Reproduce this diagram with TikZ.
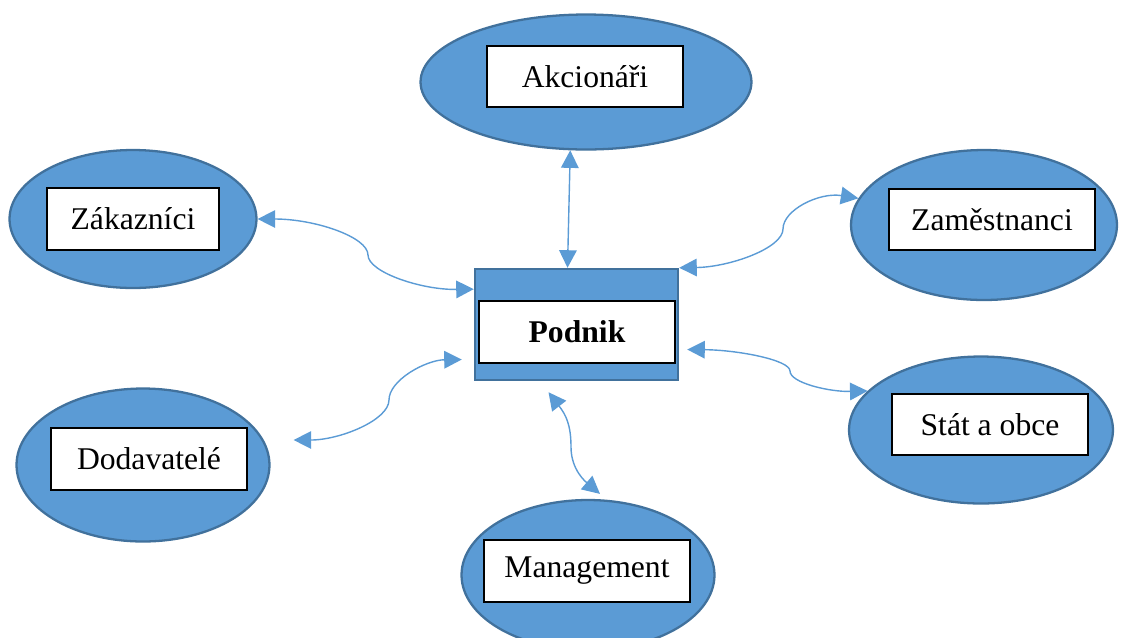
\documentclass[tikz,border=0pt]{standalone}
\usepackage{fontspec}
\setmainfont{Liberation Serif}
\usetikzlibrary{shapes.geometric,arrows.meta,calc}
\definecolor{fillblue}{HTML}{5B9BD5}
\definecolor{edgeblue}{HTML}{41719C}
\tikzset{
  party/.style={ellipse, draw=edgeblue, fill=fillblue, line width=1.3pt, inner sep=0pt},
  firm/.style={rectangle, draw=edgeblue, fill=fillblue, line width=1.4pt, inner sep=0pt},
  namebox/.style={rectangle, draw=black, fill=white, line width=0.6pt, inner sep=0pt,
    font=\fontsize{18}{21}\selectfont},
  link/.style={fillblue, line width=0.8pt,
    {Triangle[length=10pt,width=10pt]}-{Triangle[length=10pt,width=10pt]}}
}

\begin{document}
\begin{tikzpicture}[x=0.02cm, y=-0.02cm]
  \useasboundingbox (0,0) rectangle (1127,637);

  % stakeholders
  \node[party, minimum width=6.62cm, minimum height=2.7cm] (akc) at (586,82) {};
  \node[party, minimum width=4.94cm, minimum height=2.76cm] (zak) at (133,219) {};
  \node[party, minimum width=5.32cm, minimum height=3.0cm] (zam) at (984,225) {};
  \node[party, minimum width=5.06cm, minimum height=3.06cm] (dod) at (143,465) {};
  \node[party, minimum width=5.28cm, minimum height=2.94cm] (stat) at (981,430) {};
  \node[party, minimum width=5.06cm, minimum height=3.0cm] (man) at (588,575) {};

  \node[namebox, minimum width=3.92cm, minimum height=1.22cm] (akcbox) at (585,76.5) {Akcionáři};
  \node[namebox, minimum width=3.44cm, minimum height=1.24cm] (zakbox) at (133,219) {Zákazníci};
  \node[namebox, minimum width=4.12cm, minimum height=1.22cm] (zambox) at (992,219.5) {Zaměstnanci};
  \node[namebox, minimum width=3.92cm, minimum height=1.24cm] (dodbox) at (149,459) {Dodavatelé};
  \node[namebox, minimum width=3.92cm, minimum height=1.22cm] (statbox) at (990,424.5) {Stát a obce};
  \node[namebox, minimum width=4.12cm, minimum height=1.24cm] (manbox) at (587,571) {Management};

  % company
  \node[firm, minimum width=4.06cm, minimum height=2.22cm] (pod) at (576.5,324.5) {};
  \node[namebox, minimum width=3.92cm, minimum height=1.24cm] (podbox) at (577,332) {\textbf{Podnik}};

  % links
  \draw[link] (zak.east) .. controls (315,219) and (368,237) .. (368,255)
    .. controls (368,272) and (421,290) .. (pod.161);
  \draw[link] (akc.257) -- (pod.99);
  \draw[link] (pod.north east) .. controls (730,267) and (783,248) .. (783,229)
    .. controls (783,210) and (819,192) .. (zam.168);
  \draw[link] ($(dod.east)+(23,-25)$) .. controls (340,440) and (389,420) .. (389,400)
    .. controls (389,380) and (426,360) .. ($(pod.west)+(-12,35)$);
  \draw[link] ($(pod.south)+(-28,11)$) .. controls (566,415) and (571,425) .. (571,447)
    .. controls (571,470) and (586,482) .. ($(man.north)+(12,-5)$);
  \draw[link] ($(pod.east)+(8,25)$) .. controls (738,350) and (790,360) .. (790,371)
    .. controls (790,383) and (830,392) .. (stat.161);
\end{tikzpicture}
\end{document}
